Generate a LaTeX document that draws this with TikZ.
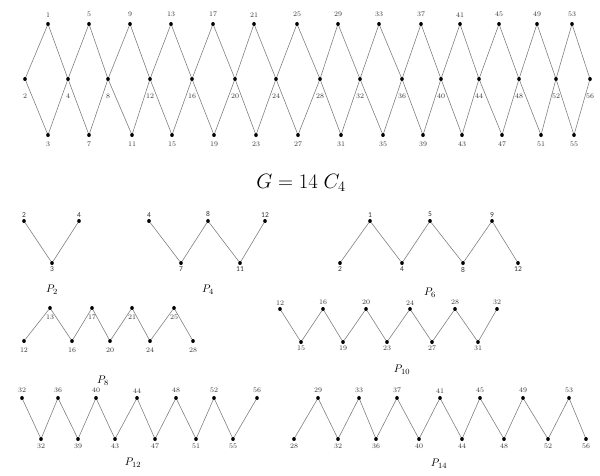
\documentclass[tikz,border=0pt]{standalone}
\usepackage{fontspec}
\newfontfamily\numfont{Carlito}
\tikzset{
  vtx/.style={ellipse,fill=black,inner sep=0pt,minimum width=3.6pt,minimum height=4.2pt},
  edge/.style={draw=black!50,line width=0.6pt},
  num/.style={font=\fontsize{7}{8}\selectfont,inner sep=0.5pt,text=black!80},
  pnum/.style={font=\numfont\fontsize{7.5}{8}\selectfont,inner sep=0.5pt,text=black!80},
  pname/.style={font=\fontsize{11}{13}\selectfont}
}
\usetikzlibrary{shapes.geometric}
\begin{document}
\begin{tikzpicture}[x=1pt,y=-1pt]
\useasboundingbox (0,0) rectangle (600,475);

% the chain of fourteen 4-cycles
\foreach \xx [count=\i] in {48,89,130,171,213,254,297,338,379,421,460,499,537,572}{
  \pgfmathtruncatemacro\lab{4*\i-3}
  \node[vtx,label={[num,label distance=4pt]above:\lab}] (t\i) at (\xx,24) {};
}
\foreach \xx [count=\i] in {48,89,132,172,214,256,298,341,383,423,462,502,541,574}{
  \pgfmathtruncatemacro\lab{4*\i-1}
  \node[vtx,label={[num,label distance=4pt]below:\lab}] (b\i) at (\xx,135) {};
}
\foreach \xx [count=\i] in {25,68,108,150,192,235,276,320,360,402,441,479,519,556,590}{
  \pgfmathtruncatemacro\lab{\i==1 ? 2 : 4*(\i-1)}
  \node[vtx,label={[num,label distance=12pt]below:\lab}] (m\i) at (\xx,79) {};
}
\foreach \i [count=\j from 2] in {1,...,14}{
  \draw[edge] (m\i) -- (t\i) -- (m\j);
  \draw[edge] (m\i) -- (b\i) -- (m\j);
}

\node (gname) at (301,183) {\fontsize{21}{25}\selectfont$G = 14\;C_4$};

% P_2
\foreach \xx/\yy/\lab/\pos [count=\i] in {24/221/2/above,52/263/3/below,79/221/4/above}
  \node[vtx,label={[pnum,label distance=1pt]\pos:\lab}] (a\i) at (\xx,\yy) {};
\foreach \i [count=\j from 2] in {1,2} \draw[edge] (a\i) -- (a\j);
\node[pname] (pa) at (52,290) {$P_{2}$};

% P_4
\foreach \xx/\yy/\lab/\pos [count=\i] in {149/221/4/above,181/263/7/below,208/221/8/above,240/263/11/below,265/221/12/above}
  \node[vtx,label={[pnum,label distance=1pt]\pos:\lab}] (c\i) at (\xx,\yy) {};
\foreach \i [count=\j from 2] in {1,...,4} \draw[edge] (c\i) -- (c\j);
\node[pname] (pc) at (208,290) {$P_{4}$};

% P_6
\foreach \xx/\yy/\lab/\pos [count=\i] in {340/263/2/below,370/221/1/above,402/263/4/below,430/221/5/above,463/263/8/below,492/221/9/above,518/263/12/below}
  \node[vtx,label={[pnum,label distance=1pt]\pos:\lab}] (e\i) at (\xx,\yy) {};
\foreach \i [count=\j from 2] in {1,...,6} \draw[edge] (e\i) -- (e\j);
\node[pname] (pe) at (430,293) {$P_{6}$};

% P_8
\foreach \xx/\yy/\lab [count=\i] in {24/341/12,50/308/13,72/341/16,92/308/17,110/341/20,132/308/21,150/341/24,174/308/25,193/341/28}
  \node[vtx,label={[num,label distance=4pt]below:\lab}] (g\i) at (\xx,\yy) {};
\foreach \i [count=\j from 2] in {1,...,8} \draw[edge] (g\i) -- (g\j);
\node[pname] (pg) at (103,381) {$P_{8}$};

% P_10
\foreach \xx/\yy/\lab/\pos [count=\i] in {280/309/12/above,301/342/15/below,323/309/16/above,343/342/19/below,366/309/20/above,387/342/23/below,410/309/24/above,432/342/27/below,455/309/28/above,478/342/31/below,497/309/32/above}
  \node[vtx,label={[num,label distance=1pt]\pos:\lab}] (h\i) at (\xx,\yy) {};
\foreach \i [count=\j from 2] in {1,...,10} \draw[edge] (h\i) -- (h\j);
\node[pname] (ph) at (402,370) {$P_{10}$};

% P_12
\foreach \xx/\yy/\lab/\pos [count=\i] in {22/398/32/above,41/439/32/below,58/398/36/above,78/439/39/below,96/398/40/above,115/439/43/below,137/398/44/above,155/439/47/below,176/398/48/above,196/439/51/below,214/398/52/above,233/439/55/below,257/398/56/above}
  \node[vtx,label={[num,label distance=2pt]\pos:\lab}] (k\i) at (\xx,\yy) {};
\foreach \i [count=\j from 2] in {1,...,12} \draw[edge] (k\i) -- (k\j);
\node[pname] (pk) at (133,463) {$P_{12}$};

% P_14
\foreach \xx/\yy/\lab/\pos [count=\i] in {294/439/28/below,318/398/29/above,338/439/32/below,359/398/33/above,376/439/36/below,397/398/37/above,419/439/40/below,440/398/41/above,462/439/44/below,480/398/45/above,504/439/48/below,523/398/49/above,548/439/52/below,569/398/53/above,586/439/56/below}
  \node[vtx,label={[num,label distance=2pt]\pos:\lab}] (n\i) at (\xx,\yy) {};
\foreach \i [count=\j from 2] in {1,...,14} \draw[edge] (n\i) -- (n\j);
\node[pname] (pn) at (439,464) {$P_{14}$};
\end{tikzpicture}
\end{document}
